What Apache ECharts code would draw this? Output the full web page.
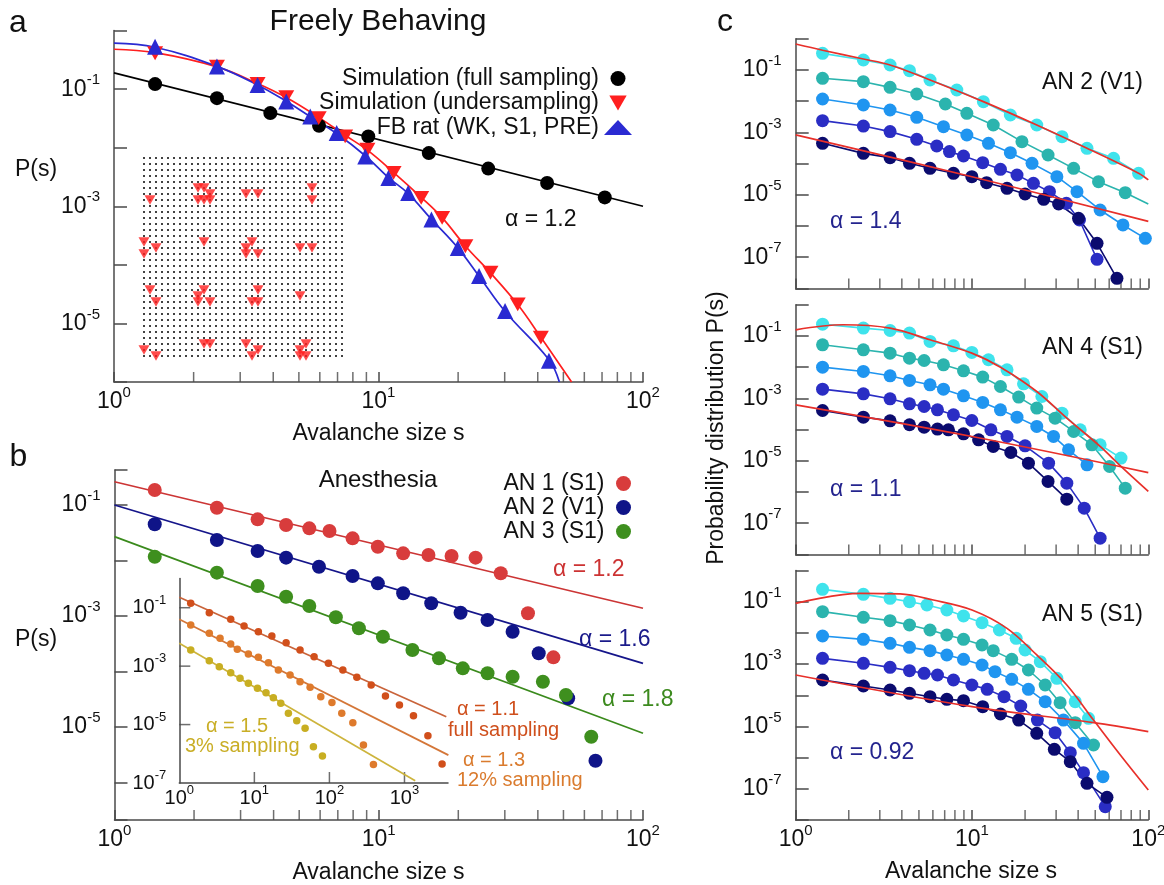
<!DOCTYPE html>
<html>
<head>
<meta charset="utf-8">
<script src="https://cdn.jsdelivr.net/npm/echarts@6/dist/echarts.min.js"></script>
<style>
html, body { margin: 0; padding: 0; background: #fff; }
#chart { width: 1164px; height: 885px; }
</style>
</head>
<body>
<div id="chart"></div>
<script>
// ---- panel a : freely behaving ----
var simFull = [[1.43,0.122],[2.45,0.0703],[3.9,0.039],[5.96,0.0237],[9.15,0.0156],[15.5,0.0081],[26.0,0.0044],[43.4,0.0025],[71.7,0.00142]];
var simFullFit = [[1,0.19],[100,0.001]];
var simUnder = [[1.43,0.41],[2.45,0.243],[3.49,0.123],[4.48,0.0731],[5.94,0.0321],[7.48,0.0156],[9.08,0.00925],[11.4,0.00371],[14.5,0.00139],[17.4,0.000634],[21.3,0.000208],[26.5,7.33e-5],[33.6,2.11e-5],[41.1,5.73e-6]];
var simUnderFit = [[1,0.48],[1.43,0.42],[2.45,0.24],[3.49,0.125],[4.48,0.072],[5.94,0.033],[7.48,0.0163],[9.08,0.0091],[11.4,0.0038],[14.5,0.00142],[17.4,0.00064],[21.3,0.00021],[26.5,7.3e-5],[33.6,2.1e-5],[41.1,5.8e-6],[53.7,1e-6]];
var fbRat = [[1.43,0.532],[2.45,0.243],[3.49,0.118],[4.48,0.0615],[5.52,0.0341],[6.95,0.0178],[8.91,0.00711],[10.9,0.00305],[12.95,0.00169],[15.85,0.000593],[19.95,0.000195],[24.0,6.43e-5],[30.1,1.63e-5],[44.1,2.3e-6]];
var fbRatFit = [[1,0.61],[1.43,0.52],[2.45,0.245],[3.49,0.118],[4.48,0.062],[5.52,0.034],[6.95,0.0175],[8.91,0.0073],[10.9,0.0031],[12.95,0.00165],[15.85,0.0006],[19.95,0.000195],[24.0,6.4e-5],[30.1,1.6e-5],[44.1,2.4e-6],[48.3,1e-6]];
// electrode lattice and the sampled sites (column, row)
var latticeCols = 34;
var latticeRows = 34;
var sampledSites = [[9,5],[10,5],[11,6],[9,7],[10,7],[11,7],[1,7],[17,6],[19,6],[28,5],[28,7],
  [0,14],[2,15],[0,16],[10,14],[18,14],[17,15],[17,16],[19,16],[26,15],[28,15],
  [1,22],[2,24],[10,22],[9,23],[9,24],[11,24],[19,22],[18,24],[19,24],[26,23],
  [10,31],[11,31],[0,32],[2,33],[17,31],[19,32],[18,33],[27,31],[26,32],[26,33],[27,33]];

// ---- panel b : anesthesia ----
var an1 = [[1.42,0.186],[2.44,0.0895],[3.48,0.0552],[4.46,0.0436],[5.46,0.038],[6.51,0.034],[7.96,0.0251],[9.92,0.0177],[12.37,0.01345],[15.42,0.01256],[18.86,0.01205],[23.25,0.01125],[28.95,0.00588],[36.7,0.00112],[45.8,0.00018]];
var an1Fit = [[1,0.263],[100,0.00138]];
var an2 = [[1.42,0.0449],[2.44,0.0234],[3.48,0.01483],[4.46,0.01125],[5.94,0.00774],[7.96,0.00526],[9.92,0.00388],[12.37,0.002565],[15.8,0.001694],[20.4,0.001146],[25.8,0.000847],[32.1,0.000521],[40.3,0.000213],[52.1,3.29e-5],[66.1,2.47e-6]];
var an2Fit = [[1,0.1],[100,0.00014]];
var an3 = [[1.42,0.01172],[2.44,0.00604],[3.48,0.003475],[4.46,0.002228],[5.46,0.001514],[6.88,0.000948],[8.41,0.0006],[10.37,0.000424],[13.41,0.000244],[16.9,0.0001726],[20.8,0.000114],[25.8,9.27e-5],[32.1,8.05e-5],[41.8,6.55e-5],[51.1,3.78e-5],[63.7,6.68e-6]];
var an3Fit = [[1,0.0269],[100,7.69e-6]];
// inset
var fullSampling = [[1.42,0.1416],[2.51,0.0675],[4.84,0.04],[7.29,0.0236],[11.3,0.0151],[17.1,0.0107],[26.5,0.00632],[40.6,0.00356],[62.5,0.0021],[97,0.00125],[151,0.000735],[232,0.000413],[360,0.000225],[558,9.46e-5],[857,4.66e-5],[1318,2.0e-5],[2051,4.13e-6],[3170,4.44e-7]];
var fullSamplingFit = [[1,0.227],[3606,1.85e-5]];
var sampling12 = [[1.42,0.0256],[2.51,0.01324],[3.49,0.00893],[4.84,0.00571],[5.93,0.00375],[8.32,0.00259],[11.3,0.002],[15.4,0.001306],[20.9,0.000735],[29.9,0.000495],[40.6,0.000292],[55.3,0.000188],[76.7,8.95e-5],[108,5.75e-5],[146,2.42e-5],[205,1.153e-5],[284,1.99e-6],[386,4.34e-7]];
var sampling12Fit = [[1,0.04],[3846,9.0e-7]];
var sampling3 = [[1.42,0.00356],[2.51,0.00153],[3.41,0.000953],[4.84,0.000594],[6.44,0.000382],[8.32,0.000258],[11.0,0.000174],[14.3,0.000123],[17.9,8.28e-5],[22.5,5.32e-5],[28.4,2.42e-5],[36.7,1.35e-5],[47.4,7.41e-6],[61.2,1.74e-6],[80.7,8.34e-7]];
var sampling3Fit = [[1,0.00604],[1390,1.19e-7]];

// ---- panel c : five sampling levels per animal ----
var v1Lvl1 = [[1.42,0.342],[2.42,0.209],[3.43,0.1445],[4.42,0.0953],[5.78,0.0478],[8.2,0.0229],[11.6,0.00966],[16.5,0.00361],[23.3,0.00173],[32.4,0.00073],[44.9,0.000308],[63.5,0.000148],[88.1,4.88e-5]];
var v1Lvl2 = [[1.42,0.0541],[2.42,0.0423],[3.43,0.0278],[4.86,0.017],[7.06,0.00813],[9.35,0.00408],[13.2,0.00173],[19.2,0.000505],[27.0,0.000189],[37.7,7.05e-5],[52.2,2.64e-5],[74.0,1.17e-5],{value:[100,5.07e-6],symbol:'none'}];
var v1Lvl3 = [[1.42,0.01177],[2.42,0.00755],[3.43,0.00522],[4.86,0.00304],[6.89,0.00153],[9.35,0.000826],[12.4,0.000447],[16.5,0.000224],[21.9,0.000102],[30.3,3.81e-5],[39.4,1.26e-5],[53.3,3.26e-6],[71.8,1.08e-6],[96.2,4.03e-7]];
var v1Lvl4 = [[1.42,0.00238],[2.42,0.0016],[3.43,0.00106],[4.86,0.0006],[6.31,0.000367],[7.45,0.000242],[8.95,0.000175],[11.5,0.000107],[14.5,6.55e-5],[18.0,4.31e-5],[22.3,2.33e-5],[27.5,1.26e-5],[34.3,5.33e-6],[40.7,1.56e-6],[51.2,8.55e-8]];
var v1Lvl5 = [[1.42,0.000447],[2.42,0.000213],[3.43,0.000155],[4.42,0.000102],[5.78,7.05e-5],[7.85,4.88e-5],[9.98,3.81e-5],[12.1,2.45e-5],[15.8,1.61e-5],[20.0,1.06e-5],[25.5,7.16e-6],[31.0,5.07e-6],[40.2,1.76e-6],[51.2,2.78e-7],[66.4,2.1e-8]];
var v1FitUpper = [[1,0.68],[1.42,0.43],[2.42,0.225],[3.43,0.145],[5.78,0.048],[11.6,0.0097],[23.3,0.00173],[44.9,0.00031],[88.1,4.9e-5],[100,3.0e-5]];
var v1FitLower = [[1,0.00083],[10,3.8e-5],[100,1.4e-6]];

var an4Lvl1 = [[1.42,0.24],[2.42,0.179],[3.43,0.15],[4.42,0.124],[5.78,0.0668],[7.85,0.0485],[9.98,0.0297],[12.4,0.0173],[15.8,0.00826],[19.6,0.00294],[24.9,0.00115],[32.4,0.000337],[41.1,9.86e-5],[53.3,3.26e-5],[70.0,1.22e-5]];
var an4Lvl2 = [[1.42,0.0522],[2.42,0.0361],[3.43,0.0282],[4.42,0.0195],[5.35,0.0164],[6.89,0.0119],[8.95,0.00767],[11.5,0.00481],[14.5,0.00241],[18.4,0.0011],[23.3,0.000488],[29.6,0.000233],[37.7,8.71e-5],[47.9,3.26e-5],[60.3,6.58e-6],[74.0,1.33e-6]];
var an4Lvl3 = [[1.42,0.01005],[2.42,0.0073],[3.43,0.0053],[4.42,0.00376],[5.78,0.00273],[6.89,0.00198],[8.95,0.00121],[11.5,0.000741],[14.5,0.000431],[18.0,0.000251],[23.3,0.000126],[29.0,6.03e-5],[35.3,2.25e-5],[44.9,7.45e-6]];
var an4Lvl4 = [[1.42,0.00198],[2.42,0.0014],[3.43,0.00097],[4.42,0.000671],[5.35,0.000551],[6.37,0.000431],[7.85,0.000298],[9.98,0.000196],[12.8,9.86e-5],[15.8,6.03e-5],[20.0,3.03e-5],[27.2,8.41e-6],[34.5,1.92e-6],[43.3,3.04e-7],[53.3,3.32e-8]];
var an4Lvl5 = [[1.42,0.00041],[2.42,0.000251],[3.43,0.000191],[4.42,0.000143],[5.35,0.00012],[6.37,0.000104],[7.35,9.86e-5],[8.95,7.33e-5],[10.9,4.71e-5],[13.2,2.88e-5],[16.6,1.85e-5],[20.9,8.41e-6],[27.0,2.18e-6],[34.5,5.9e-7]];
var an4FitUpper = [[1,0.158],[1.86,0.229],[3.43,0.179],[5.78,0.0755],[9.98,0.0282],[14.5,0.01],[23.3,0.00167],[34.5,0.000233],[53.3,2.9e-5],[70,6.6e-6],[100,1.04e-6]];
var an4FitLower = [[1,0.00062],[10,6.0e-5],[100,4.2e-6]];

var an5Lvl1 = [[1.42,0.249],[2.42,0.172],[3.43,0.128],[4.42,0.1],[5.55,0.0784],[7.2,0.0542],[8.95,0.0348],[11.4,0.0213],[14.3,0.0124],[17.8,0.0067],[20.0,0.00283],[24.4,0.0012],[30.3,0.00035],[38.5,6.25e-5],[45.8,1.83e-5]];
var an5Lvl2 = [[1.42,0.048],[2.42,0.0316],[3.43,0.0247],[4.42,0.0179],[5.78,0.0124],[7.2,0.00857],[8.95,0.00622],[11.4,0.00409],[13.2,0.0027],[16.8,0.00142],[20.9,0.000647],[26.0,0.000214],[31.6,5.81e-5],[38.5,1.33e-5],[48.9,2.55e-6]];
var an5Lvl3 = [[1.42,0.00796],[2.42,0.00622],[3.43,0.00463],[4.42,0.00344],[5.78,0.0027],[7.2,0.00196],[8.95,0.00142],[11.4,0.000936],[13.5,0.000573],[16.8,0.000325],[20.9,0.000155],[26.0,6.25e-5],[33.0,1.61e-5],[42.9,2.88e-6],[55.3,2.47e-7]];
var an5Lvl4 = [[1.42,0.00153],[2.42,0.00106],[3.43,0.000787],[4.42,0.000615],[5.35,0.000506],[6.37,0.000447],[7.85,0.000309],[9.98,0.000214],[12.2,0.000155],[15.2,9.04e-5],[18.9,4.54e-5],[23.5,1.61e-5],[29.6,6.34e-6],[36.1,1.45e-6],[42.9,3.31e-7],[57.0,2.69e-8]];
var an5Lvl5 = [[1.42,0.000309],[2.42,0.000199],[3.43,0.000148],[4.42,0.000116],[5.78,9.04e-5],[7.2,7.43e-5],[8.95,6.73e-5],[11.5,4.32e-5],[14.5,2.52e-5],[18.4,1.61e-5],[23.3,6.04e-6],[29.3,1.85e-6],[36.1,7.46e-7],[44.9,1.51e-7],[58.3,5.36e-8]];
var an5FitUpper = [[1,0.0887],[2.32,0.185],[3.91,0.177],[6.04,0.113],[10,0.0542],[15.8,0.014],[23.3,0.00196],[34.5,0.000214],[48.9,1.61e-5],[69.4,1.22e-6],[100,9.2e-8]];
var an5FitLower = [[1,0.000448],[10,4.32e-5],[48.9,1.33e-5],[100,6.84e-6]];

// ticks
var minorTicks = [2,3,4,5,6,7,8,9,20,30,40,50,60,70,80,90];
var insetTicksX = [10,100,1000];
var insetTicksY = [1e-1,1e-3,1e-5];
var bYMin = 2.108e-7, bYMax = 0.4276;

var FONT = '"Liberation Sans", Arial, sans-serif';
var AX = '#4a4a4a';
var levelColors = ['#3fe3ec', '#2bb4ae', '#1f95f0', '#2a2dc4', '#0b0b6e'];
var DOWN_TRI = 'path://M0,0L20,0L10,17.3Z';

var richMain = {
  b: { fontSize: 23, fontFamily: FONT, color: '#111', padding: [5, 0, 5, 0], verticalAlign: 'bottom' },
  e: { fontSize: 15, fontFamily: FONT, color: '#111', verticalAlign: 'top' }
};
var richInset = {
  b: { fontSize: 20, fontFamily: FONT, color: '#111', padding: [4, 0, 4, 0], verticalAlign: 'bottom' },
  e: { fontSize: 13, fontFamily: FONT, color: '#111', verticalAlign: 'top' }
};

function expLabel(oddOnly) {
  return function (v) {
    var e = Math.log10(v), r = Math.round(e);
    if (Math.abs(e - r) > 1e-6) return '';
    if (oddOnly && Math.abs(r % 2) !== 1) return '';
    return '{b|10}{e|' + r + '}';
  };
}

function xLog(grid, max, showLabel) {
  return {
    type: 'log', logBase: 10, gridIndex: grid, min: 1, max: max, splitNumber: 2,
    axisLine: { lineStyle: { color: AX, width: 1.5 } },
    axisTick: { inside: true, length: 10, lineStyle: { color: AX, width: 1.5 } },
    axisLabel: { show: showLabel, margin: 3, formatter: expLabel(false), rich: richMain },
    splitLine: { show: false }
  };
}
function yLog(grid, min, max, split) {
  return {
    type: 'log', logBase: 10, gridIndex: grid, min: min, max: max, splitNumber: split,
    axisLine: { lineStyle: { color: AX, width: 1.5 } },
    axisTick: { inside: true, length: 13, lineStyle: { color: AX, width: 1.5 } },
    axisLabel: { margin: 14, formatter: expLabel(true), rich: richMain },
    splitLine: { show: false }
  };
}

function tickSeries(idx, yMin) {
  return {
    type: 'scatter', xAxisIndex: idx, yAxisIndex: idx, silent: true, clip: false, z: 1,
    data: minorTicks.map(function (s) { return [s, yMin]; }),
    symbol: 'rect', symbolSize: [1.5, 10], symbolOffset: [0, -5], itemStyle: { color: AX }
  };
}
function fitLine(idx, data, color, smooth) {
  return {
    type: 'line', xAxisIndex: idx, yAxisIndex: idx, data: data, symbol: 'none', smooth: smooth || false,
    lineStyle: { color: color, width: 1.7 }, silent: true, z: 2
  };
}
function dots(idx, name, data, color, symbol, size) {
  return {
    type: 'scatter', name: name, xAxisIndex: idx, yAxisIndex: idx, data: data,
    symbol: symbol, symbolSize: size, symbolKeepAspect: true,
    itemStyle: { color: color, opacity: 1 }, z: 3
  };
}
function levelLine(idx, data, color) {
  return {
    type: 'line', xAxisIndex: idx, yAxisIndex: idx, data: data, symbol: 'circle', symbolSize: 13,
    showSymbol: true, lineStyle: { color: color, width: 1.6 }, itemStyle: { color: color }, z: 3
  };
}

var lattice = [];
for (var r = 0; r < latticeRows; r++) {
  for (var c = 0; c < latticeCols; c++) lattice.push([c, r]);
}

function txt(text, x, y, size, color, align) {
  return { type: 'text', silent: true, z: 10, style: {
    text: text, x: x, y: y, font: size + 'px ' + FONT, fill: color || '#111',
    textAlign: align || 'center', textVerticalAlign: 'middle' } };
}

var grids = [
  { left: 114, top: 30.6, width: 529, height: 351.4 },
  { left: 144, top: 158, width: 198, height: 198 },
  { left: 114.5, top: 470, width: 528.5, height: 350 },
  { left: 179.3, top: 578.5, width: 268.7, height: 204.5 },
  { left: 795.7, top: 38.8, width: 352.6, height: 249.6 },
  { left: 795.7, top: 304.8, width: 352.6, height: 249.6 },
  { left: 795.7, top: 570.5, width: 352.6, height: 249.6 }
];
grids.forEach(function (g) { g.outerBoundsMode = 'none'; g.containLabel = false; });

var insetY = yLog(3, 1e-7, 1, 7);
insetY.axisTick = { show: false };
insetY.axisLabel = { margin: 13, formatter: expLabel(true), rich: richInset };
var insetX = {
  type: 'log', logBase: 10, gridIndex: 3, min: 1, max: 3800, splitNumber: 4,
  axisLine: { lineStyle: { color: AX, width: 1.5 } },
  axisTick: { show: false },
  axisLabel: { margin: 1, formatter: expLabel(false), rich: richInset },
  splitLine: { show: false }
};

var series = [
  tickSeries(0, 1e-6),
  fitLine(0, simFullFit, '#000'),
  fitLine(0, simUnderFit, '#ff1f1f', 0.4),
  fitLine(0, fbRatFit, '#2a2ad2', 0.4),
  dots(0, 'Simulation (full sampling)', simFull, '#000', 'circle', 14),
  dots(0, 'Simulation (undersampling)', simUnder, '#ff1f1f', DOWN_TRI, 16),
  dots(0, 'FB rat (WK, S1, PRE)', fbRat, '#2a2ad2', 'triangle', 16),
  { type: 'scatter', xAxisIndex: 1, yAxisIndex: 1, data: lattice, symbol: 'rect', symbolSize: 2,
    itemStyle: { color: '#111' }, silent: true, z: 2 },
  { type: 'scatter', xAxisIndex: 1, yAxisIndex: 1, data: sampledSites, symbol: DOWN_TRI, symbolSize: 11,
    symbolKeepAspect: true, itemStyle: { color: '#ff1f1f' }, silent: true, z: 3 },

  tickSeries(2, bYMin),
  fitLine(2, an1Fit, '#cc3535'),
  fitLine(2, an2Fit, '#15158a'),
  fitLine(2, an3Fit, '#3a8a1c'),
  dots(2, 'AN 1 (S1)', an1, '#d83c3c', 'circle', 14),
  dots(2, 'AN 2 (V1)', an2, '#0f1488', 'circle', 14),
  dots(2, 'AN 3 (S1)', an3, '#3e8f1e', 'circle', 14),

  { type: 'scatter', xAxisIndex: 3, yAxisIndex: 3, silent: true, clip: false, z: 1,
    data: insetTicksX.map(function (s) { return [s, 1e-7]; }),
    symbol: 'rect', symbolSize: [1.5, 11], symbolOffset: [0, -5.5], itemStyle: { color: AX } },
  { type: 'scatter', xAxisIndex: 3, yAxisIndex: 3, silent: true, clip: false, z: 1,
    data: insetTicksY.map(function (p) { return [1, p]; }),
    symbol: 'rect', symbolSize: [11, 1.5], symbolOffset: [5.5, 0], itemStyle: { color: AX } },
  fitLine(3, fullSamplingFit, '#c9633a'),
  fitLine(3, sampling12Fit, '#d47638'),
  fitLine(3, sampling3Fit, '#cdb43c'),
  dots(3, null, fullSampling, '#d14f1b', 'circle', 7.5),
  dots(3, null, sampling12, '#de7a2c', 'circle', 7.5),
  dots(3, null, sampling3, '#c8ae22', 'circle', 7.5)
];

var cPanels = [
  [4, [v1Lvl1, v1Lvl2, v1Lvl3, v1Lvl4, v1Lvl5], v1FitUpper, v1FitLower],
  [5, [an4Lvl1, an4Lvl2, an4Lvl3, an4Lvl4, an4Lvl5], an4FitUpper, an4FitLower],
  [6, [an5Lvl1, an5Lvl2, an5Lvl3, an5Lvl4, an5Lvl5], an5FitUpper, an5FitLower]
];
cPanels.forEach(function (p) {
  series.push(tickSeries(p[0], 1e-8));
  p[1].forEach(function (d, i) { series.push(levelLine(p[0], d, levelColors[i])); });
  var up = fitLine(p[0], p[2], '#e8302a', 0.35); up.z = 4;
  var lo = fitLine(p[0], p[3], '#e8302a', 0.35); lo.z = 4;
  series.push(up, lo);
});

var myChart = echarts.init(document.getElementById('chart'));
myChart.setOption({
  animation: false,
  backgroundColor: '#fff',
  textStyle: { fontFamily: FONT },
  grid: grids,
  xAxis: [
    xLog(0, 100, true),
    { type: 'value', gridIndex: 1, min: 0, max: 33, show: false },
    xLog(2, 100, true),
    insetX,
    xLog(4, 100, false),
    xLog(5, 100, false),
    xLog(6, 100, true)
  ],
  yAxis: [
    yLog(0, 1e-6, 1, 6),
    { type: 'value', gridIndex: 1, min: 0, max: 33, inverse: true, show: false },
    yLog(2, bYMin, bYMax, 6),
    insetY,
    yLog(4, 1e-8, 1, 8),
    yLog(5, 1e-8, 1, 8),
    yLog(6, 1e-8, 1, 8)
  ],
  legend: [
    { data: [
        { name: 'Simulation (full sampling)', icon: 'circle' },
        { name: 'Simulation (undersampling)', icon: DOWN_TRI },
        { name: 'FB rat (WK, S1, PRE)', icon: 'triangle' }
      ],
      orient: 'vertical', align: 'right', right: 527, top: 62, itemWidth: 28, itemHeight: 15, itemGap: 1.5,
      symbolKeepAspect: true, selectedMode: false,
      textStyle: { fontSize: 23, fontFamily: FONT, color: '#111', lineHeight: 20 } },
    { data: ['AN 1 (S1)', 'AN 2 (V1)', 'AN 3 (S1)'],
      orient: 'vertical', align: 'right', right: 528, top: 467, itemWidth: 28, itemHeight: 15, itemGap: 1,
      selectedMode: false, textStyle: { fontSize: 23, fontFamily: FONT, color: '#111', lineHeight: 20 } }
  ],
  graphic: [
    txt('a', 18, 23, 32),
    txt('Freely Behaving', 378, 22, 30),
    txt('P(s)', 36, 170, 23),
    txt('\u03b1 = 1.2', 505, 220, 23, '#111', 'left'),
    txt('Avalanche size s', 378.5, 434, 23),
    txt('b', 18.5, 457, 32),
    txt('Anesthesia', 378, 480, 24),
    txt('P(s)', 36, 640, 23),
    txt('\u03b1 = 1.2', 553, 570, 23, '#cc3333', 'left'),
    txt('\u03b1 = 1.6', 579, 640, 23, '#1a1a8a', 'left'),
    txt('\u03b1 = 1.8', 602, 700, 23, '#3c8a1e', 'left'),
    txt('\u03b1 = 1.1', 457, 709, 20, '#cf4f1c', 'left'),
    txt('full sampling', 448, 730, 20, '#cf4f1c', 'left'),
    txt('\u03b1 = 1.3', 463, 760, 20, '#da7b2e', 'left'),
    txt('12% sampling', 457, 780, 20, '#da7b2e', 'left'),
    txt('\u03b1 = 1.5', 206, 726, 20, '#c9ae26', 'left'),
    txt('3% sampling', 185, 746, 20, '#c9ae26', 'left'),
    txt('Avalanche size s', 378.5, 873, 23),
    txt('c', 725, 22, 32),
    txt('AN 2 (V1)', 1042, 83, 23, '#111', 'left'),
    txt('AN 4 (S1)', 1042, 348, 23, '#111', 'left'),
    txt('AN 5 (S1)', 1042, 615, 23, '#111', 'left'),
    txt('\u03b1 = 1.4', 830, 222, 23, '#24248e', 'left'),
    txt('\u03b1 = 1.1', 830, 490, 23, '#24248e', 'left'),
    txt('\u03b1 = 0.92', 830, 753, 23, '#24248e', 'left'),
    { type: 'text', silent: true, x: 717, y: 428, rotation: Math.PI / 2,
      style: { text: 'Probability distribution P(s)', x: 0, y: 0, font: '23px ' + FONT, fill: '#111',
        textAlign: 'center', textVerticalAlign: 'middle' } },
    txt('Avalanche size s', 971, 872, 23)
  ],
  series: series
});
</script>
</body>
</html>
